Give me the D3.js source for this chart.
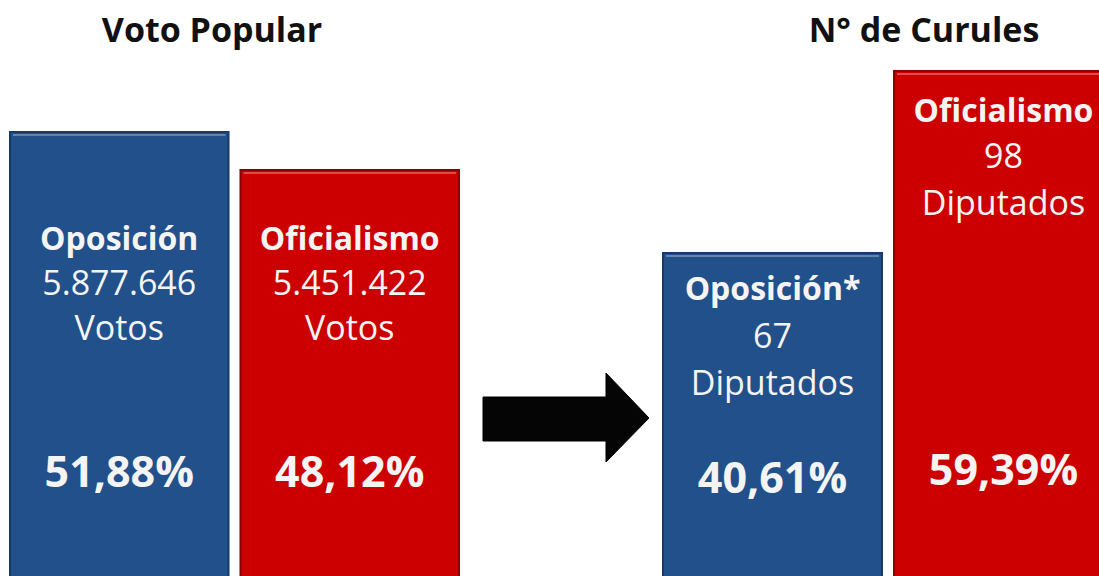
<!DOCTYPE html>
<html>
<head>
<meta charset="utf-8">
<script src="https://cdnjs.cloudflare.com/ajax/libs/d3/7.8.5/d3.min.js"></script>
<style>
  body { margin: 0; background: #fff; }
  svg { display: block; }
</style>
</head>
<body>
<div id="chart"></div>
<script>
// data
const panelTitles = ['Voto Popular', 'N° de Curules'];
const votoCategories = ['Oposición', 'Oficialismo'];
const votoPercent = [51.88, 48.12];
const votoCounts = ['5.877.646', '5.451.422'];
const votoUnit = 'Votos';
const curulesCategories = ['Oposición*', 'Oficialismo'];
const curulesPercent = [40.61, 59.39];
const curulesCounts = ['67', '98'];
const curulesUnit = 'Diputados';

const w = 1099;
const h = 576;
const font = "'Open Sans', sans-serif";
const colors = { 'Oposición': '#21508b', 'Oposición*': '#21508b', 'Oficialismo': '#cc0000' };
const strokes = { 'Oposición': '#163a68', 'Oposición*': '#163a68', 'Oficialismo': '#8a0000' };

const svg = d3.select('#chart')
  .append('svg')
  .attr('width', w)
  .attr('height', h)

const fmt = v => d3.format('.2f')(v).replace('.', ',') + '%';

const panels = [
  {
    title: panelTitles[0], titleX: 212,
    data: votoCategories.map((c, i) => ({ cat: c, pct: votoPercent[i], count: votoCounts[i], unit: votoUnit })),
    xRange: [10, 459], base: 656, k: 10.1,
    // text baselines: fixed rows
    rows: () => [250, 295, 340, 487]
  },
  {
    title: panelTitles[1], titleX: 924,
    data: curulesCategories.map((c, i) => ({ cat: c, pct: curulesPercent[i], count: curulesCounts[i], unit: curulesUnit })),
    xRange: [663, 1113], base: 646.5, k: 9.69,
    // text follows bar top
    rows: (top, i) => i === 0 ? [top + 47, top + 95, top + 142, 493] : [top + 51, top + 97, top + 144, 485]
  }
];

panels.forEach(p => {
  const xScale = d3.scaleBand()
    .domain(p.data.map(d => d.cat))
    .range(p.xRange)
    .paddingInner(0.052)

  const yScale = d3.scaleLinear()
    .domain([0, 100])
    .range([p.base, p.base - 100 * p.k])

  svg.append('text')
    .attr('x', p.titleX)
    .attr('y', 42)
    .attr('text-anchor', 'middle')
    .attr('font-family', font)
    .attr('font-weight', 'bold')
    .attr('font-size', 34)
    .attr('fill', '#111')
    .text(p.title)

  const g = svg.append('g')

  g.selectAll('rect')
    .data(p.data)
    .enter()
    .append('rect')
    .attr('x', d => xScale(d.cat))
    .attr('y', d => yScale(d.pct))
    .attr('width', xScale.bandwidth())
    .attr('height', d => yScale(0) - yScale(d.pct))
    .attr('fill', d => colors[d.cat])
    .attr('stroke', d => strokes[d.cat])
    .attr('stroke-width', 2)

  // top highlight
  g.selectAll('line.hl')
    .data(p.data)
    .enter()
    .append('line')
    .attr('class', 'hl')
    .attr('x1', d => xScale(d.cat) + 3)
    .attr('x2', d => xScale(d.cat) + xScale.bandwidth() - 3)
    .attr('y1', d => yScale(d.pct) + 3)
    .attr('y2', d => yScale(d.pct) + 3)
    .attr('stroke', '#fff')
    .attr('stroke-opacity', 0.3)
    .attr('stroke-width', 2)

  p.data.forEach((d, i) => {
    const cx = xScale(d.cat) + xScale.bandwidth() / 2;
    const ys = p.rows(yScale(d.pct), i);
    const lines = [
      { t: d.cat, bold: true, size: 32 },
      { t: d.count, bold: false, size: 34 },
      { t: d.unit, bold: false, size: 34 },
      { t: fmt(d.pct), bold: true, size: 43 }
    ];
    lines.forEach((l, j) => {
      g.append('text')
        .attr('x', cx)
        .attr('y', ys[j])
        .attr('text-anchor', 'middle')
        .attr('font-family', font)
        .attr('font-weight', l.bold ? 'bold' : 'normal')
        .attr('font-size', l.size)
        .attr('fill', '#f4f4f4')
        .text(l.t)
    })
  })
})

// arrow between panels
const arrow = d3.path();
arrow.moveTo(483, 397);
arrow.lineTo(606, 397);
arrow.lineTo(606, 373);
arrow.lineTo(649, 418);
arrow.lineTo(606, 462);
arrow.lineTo(606, 441);
arrow.lineTo(483, 441);
arrow.closePath();

svg.append('path')
  .attr('d', arrow.toString())
  .attr('fill', '#050505')
  .attr('stroke', '#000')
  .attr('stroke-width', 1)
</script>
</body>
</html>
